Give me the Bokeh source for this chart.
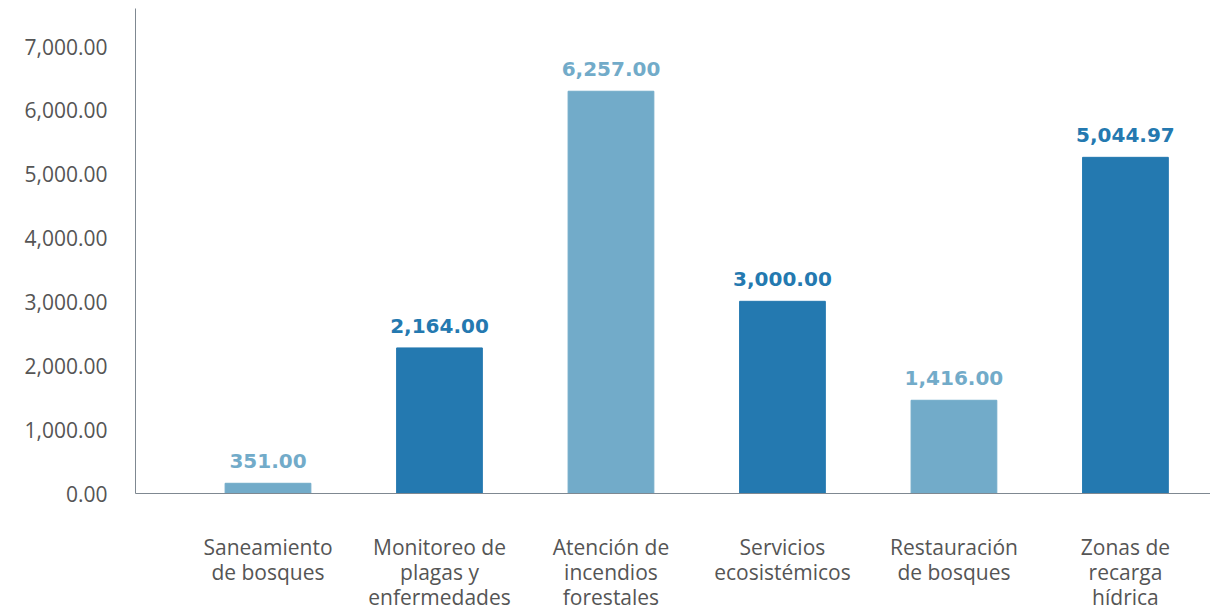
from bokeh.plotting import figure
from bokeh.models import Range1d, FixedTicker, ColumnDataSource, LabelSet, NumeralTickFormatter
from bokeh.core.properties import value
from bokeh.embed import file_html
from bokeh.resources import INLINE

categories = ["Saneamiento\nde bosques", "Monitoreo de\nplagas y\nenfermedades",
              "Atención de\nincendios\nforestales", "Servicios\necosistémicos",
              "Restauración\nde bosques", "Zonas de\nrecarga\nhídrica"]
bar_heights = [160, 2280, 6300, 3010, 1460, 5265]
value_labels = ["351.00", "2,164.00", "6,257.00", "3,000.00", "1,416.00", "5,044.97"]
colors = ["#72abc9", "#2479b0", "#72abc9", "#2479b0", "#72abc9", "#2479b0"]
y_ticks = [0, 1000, 2000, 3000, 4000, 5000, 6000, 7000]

FONT = "Open Sans"
xs = list(range(len(categories)))

src = ColumnDataSource(dict(x=xs, top=bar_heights, lab=value_labels, color=colors))

p = figure(width=1210, height=614, output_backend="svg", toolbar_location=None,
           x_range=Range1d(-0.7726, 5.496), y_range=Range1d(0, 7596),
           min_border_left=135, min_border_right=0, min_border_top=8, min_border_bottom=121)
p.outline_line_color = None
p.grid.visible = False

p.vbar(x="x", top="top", width=0.5, bottom=0, color="color", source=src)

labels = LabelSet(x="x", y="top", text="lab", source=src, text_align="center",
                  text_baseline="bottom", y_offset=15, text_color="color",
                  text_font_size="20px", text_font_style="bold", text_font=value("DejaVu Sans"))
p.add_layout(labels)

p.xaxis.ticker = FixedTicker(ticks=xs)
p.xaxis.major_label_overrides = {i: c for i, c in enumerate(categories)}
p.yaxis.ticker = FixedTicker(ticks=y_ticks)
p.yaxis.formatter = NumeralTickFormatter(format="0,0.00")

for ax in (p.xaxis[0], p.yaxis[0]):
    ax.axis_line_color = "#7f8891"
    ax.axis_line_width = 1
    ax.major_tick_line_color = None
    ax.minor_tick_line_color = None
    ax.major_label_text_color = "#555555"
    ax.major_label_text_font = FONT
    ax.major_label_text_font_size = "21px"

p.xaxis.major_label_text_line_height = 0.91
p.xaxis.major_label_standoff = 33
p.yaxis.major_label_standoff = 22

open("out.html", "w").write(file_html(p, INLINE))
